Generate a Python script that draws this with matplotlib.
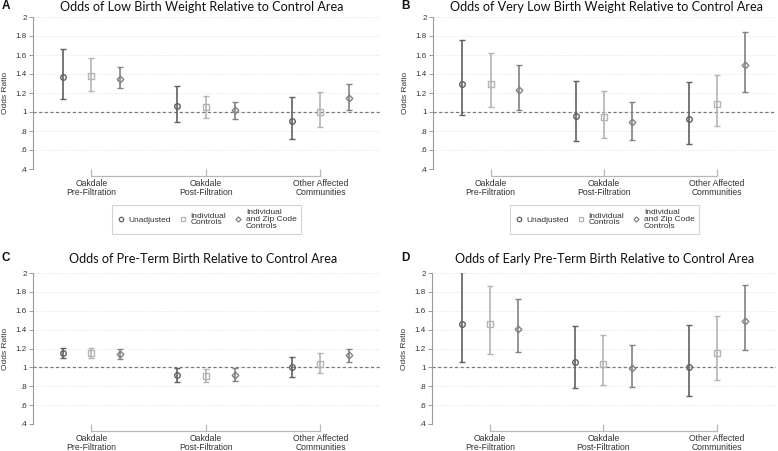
import matplotlib.pyplot as plt
from matplotlib.lines import Line2D

plt.rcParams['font.family'] = ['Liberation Sans', 'DejaVu Sans']

groups = ["Oakdale\nPre-Filtration", "Oakdale\nPost-Filtration", "Other Affected\nCommunities"]
series = ["Unadjusted", "Individual\nControls", "Individual\nand Zip Code\nControls"]
yticks = [0.4, 0.6, 0.8, 1.0, 1.2, 1.4, 1.6, 1.8, 2.0]
ytick_labels = [".4", ".6", ".8", "1", "1.2", "1.4", "1.6", "1.8", "2"]

# rows = series (unadjusted, individual, individual + zip), cols = groups
lbw_est = [[1.37, 1.06, 0.91], [1.38, 1.05, 1.00], [1.35, 1.02, 1.15]]
lbw_lo = [[1.14, 0.89, 0.72], [1.22, 0.94, 0.84], [1.25, 0.93, 1.02]]
lbw_hi = [[1.66, 1.27, 1.16], [1.57, 1.17, 1.21], [1.47, 1.11, 1.30]]

vlbw_est = [[1.30, 0.96, 0.93], [1.30, 0.95, 1.08], [1.23, 0.89, 1.49]]
vlbw_lo = [[0.97, 0.70, 0.66], [1.05, 0.73, 0.85], [1.02, 0.71, 1.21]]
vlbw_hi = [[1.76, 1.33, 1.32], [1.62, 1.22, 1.39], [1.49, 1.11, 1.84]]

ptb_est = [[1.15, 0.92, 1.00], [1.15, 0.91, 1.04], [1.14, 0.92, 1.13]]
ptb_lo = [[1.10, 0.85, 0.90], [1.10, 0.85, 0.94], [1.09, 0.86, 1.06]]
ptb_hi = [[1.21, 0.99, 1.11], [1.21, 0.98, 1.15], [1.19, 0.99, 1.20]]

eptb_est = [[1.46, 1.06, 1.00], [1.46, 1.04, 1.15], [1.41, 0.99, 1.49]]
eptb_lo = [[1.06, 0.78, 0.70], [1.14, 0.81, 0.87], [1.16, 0.79, 1.18]]
eptb_hi = [[2.01, 1.44, 1.45], [1.86, 1.34, 1.54], [1.72, 1.24, 1.87]]

colors = ["#606060", "#b4b4b4", "#828282"]
markers = ["o", "s", "D"]
msizes = [4.0, 4.0, 3.4]
offsets = [-0.25, 0.0, 0.25]

fig = plt.figure(figsize=(7.78, 4.51), dpi=100)
W, H = 778, 451


def make_axes(x0, x1, ytop, ybot):
    return fig.add_axes([x0 / W, 1 - ybot / H, (x1 - x0) / W, (ybot - ytop) / H])


def draw_panel(ax, est, lo, hi, title, letter, title_x, letter_x, top_y, legend):
    for i in range(3):
        xs = [g + 1 + offsets[i] for g in range(3)]
        yerr = [[est[i][g] - lo[i][g] for g in range(3)], [hi[i][g] - est[i][g] for g in range(3)]]
        ax.errorbar(xs, est[i], yerr=yerr, fmt=markers[i], color=colors[i], ecolor=colors[i],
                    mfc="none", mec=colors[i], ms=msizes[i], mew=1.0, elinewidth=1.2,
                    capsize=2.2, capthick=1.0, zorder=3)
    ax.set_xlim(0.49, 3.52)
    ax.set_ylim(0.4, 2.0)
    for y in yticks[1:]:
        ax.axhline(y, color="#e2e2e2", lw=0.7, ls=(0, (1, 1.5)), zorder=1)
    ax.axhline(1.0, color="#7a7a7a", lw=0.9, ls=(0, (2.5, 2)), zorder=2)
    ax.set_yticks(yticks)
    ax.set_yticklabels(ytick_labels)
    ax.set_xticks([1, 2, 3])
    ax.set_xticklabels(groups)
    for s in ["top", "right"]:
        ax.spines[s].set_visible(False)
    ax.spines["left"].set_color("#9a9a9a")
    ax.spines["left"].set_linewidth(0.8)
    ax.spines["bottom"].set_color("#b8b8b8")
    ax.spines["bottom"].set_linewidth(0.9)
    ax.spines["bottom"].set_position(("outward", 5))
    ax.spines["bottom"].set_bounds(1, 3)
    ax.tick_params(axis="y", length=3, width=0.7, color="#9a9a9a", labelsize=5.8,
                   labelcolor="#333333", pad=1.5)
    ax.tick_params(axis="x", direction="in", length=5, width=0.9, color="#b8b8b8",
                   labelsize=6.2, labelcolor="#333333", pad=2.5)
    for lab in ax.get_xticklabels():
        lab.set_linespacing(0.92)
    ax.set_ylabel("Odds Ratio", fontsize=6.0, color="#333333", labelpad=5)
    ax.set_facecolor("none")
    fig.text(title_x / W, 1 - top_y / H, title, ha="center", va="center",
             fontsize=9.1, family="Lato", color="#111111")
    fig.text(letter_x / W, 1 - (top_y - 1) / H, letter, ha="left", va="center",
             fontsize=8.5, fontweight="bold", color="#111111")
    if legend:
        handles = [Line2D([], [], ls="none", marker=markers[i], ms=msizes[i] - 0.8, mfc="none",
                          mec=colors[i], mew=0.9) for i in range(3)]
        leg = ax.legend(handles, series, ncol=3, loc="upper center", bbox_to_anchor=(0.5, -0.21),
                        fontsize=6.0, frameon=True, fancybox=False, edgecolor="#c8c8c8",
                        handlelength=1.0, handletextpad=0.45, columnspacing=0.9,
                        borderpad=0.5, labelspacing=0.2)
        leg.get_frame().set_linewidth(0.8)
        for t in leg.get_texts():
            t.set_color("#333333")
            t.set_linespacing(0.95)


ax_a = make_axes(33, 380, 17, 169)
ax_b = make_axes(433, 776, 17, 169)
ax_c = make_axes(33, 380, 273, 424)
ax_d = make_axes(432, 776, 273, 424)

draw_panel(ax_a, lbw_est, lbw_lo, lbw_hi, "Odds of Low Birth Weight Relative to Control Area",
           "A", 202, 2, 7, True)
draw_panel(ax_b, vlbw_est, vlbw_lo, vlbw_hi, "Odds of Very Low Birth Weight Relative to Control Area",
           "B", 607, 401, 7, True)
draw_panel(ax_c, ptb_est, ptb_lo, ptb_hi, "Odds of Pre-Term Birth Relative to Control Area",
           "C", 203, 2, 259, False)
draw_panel(ax_d, eptb_est, eptb_lo, eptb_hi, "Odds of Early Pre-Term Birth Relative to Control Area",
           "D", 605, 401, 259, False)

fig.savefig("out.png", dpi=100)
